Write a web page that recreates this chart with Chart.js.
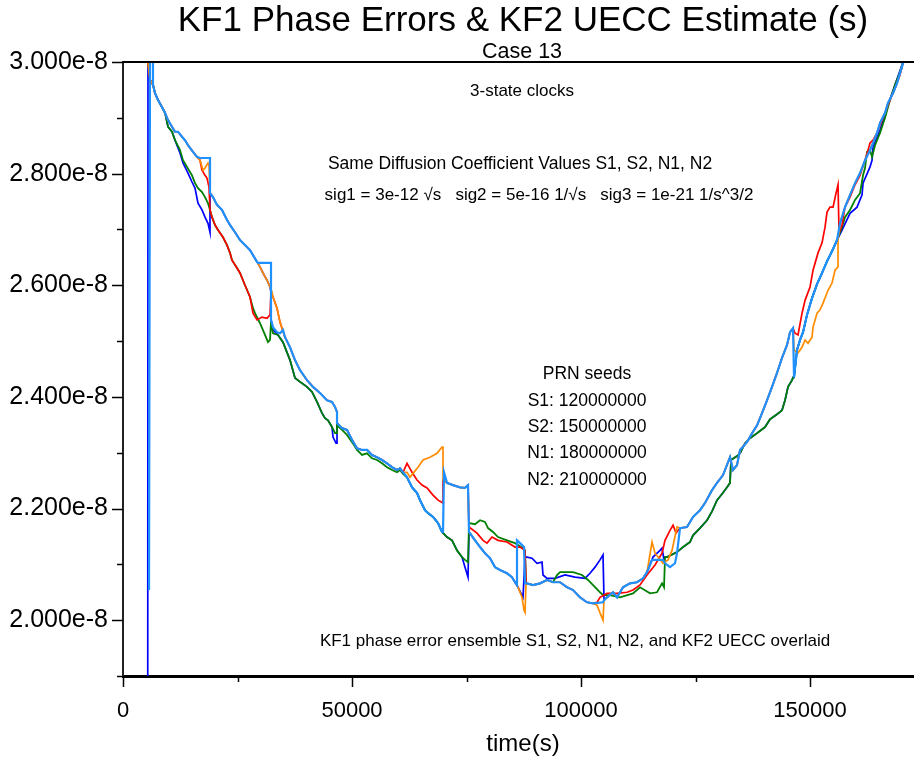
<!DOCTYPE html>
<html>
<head>
<meta charset="utf-8">
<title>KF1 Phase Errors &amp; KF2 UECC Estimate</title>
<script src="https://cdn.jsdelivr.net/npm/chart.js@4.4.1/dist/chart.umd.min.js"></script>
<style>
  html, body { margin: 0; padding: 0; background: #fff; }
</style>
</head>
<body>
<canvas id="kfChart" width="914" height="759"></canvas>
<script>
// Time in seconds, phase error in units of 1e-8 s (ticks are labelled "x.xxxe-8").
// The five traces share long stretches, so each one is assembled from path pieces.
const head = [[5459, 3.000], [5895, 2.968]];
const start = [[6550, 2.959], [6987, 2.944], [7642, 2.932], [8515, 2.919], [9170, 2.909]];
const upperEarly = [[9825, 2.896], [10699, 2.884], [11354, 2.875], [12009, 2.875], [12882, 2.866], [13537, 2.860], [14192, 2.851], [15284, 2.839], [16157, 2.830]];
const greenEarly = [[9825, 2.884], [10699, 2.875], [11354, 2.860], [12445, 2.842], [13100, 2.824], [13974, 2.812], [15065, 2.797], [15720, 2.783], [16376, 2.774], [17249, 2.767], [17904, 2.758], [18559, 2.747]];
const blueEarly = [[9825, 2.884], [10699, 2.875], [11354, 2.860], [12445, 2.837], [13100, 2.819], [14192, 2.801], [15065, 2.785], [15720, 2.774], [16376, 2.747], [17249, 2.735], [17904, 2.722], [18559, 2.711], [18996, 2.695]];
const redKink1 = [[16812, 2.824], [17249, 2.806], [17904, 2.797], [18341, 2.792], [18777, 2.776]];
const orangeKink1 = [[16812, 2.824], [17467, 2.806], [17904, 2.810], [18559, 2.819], [18777, 2.815]];
const cyanStep1 = [[16812, 2.828], [18996, 2.828]];

const lowerA = [[18996, 2.735], [19432, 2.722], [20087, 2.708], [20742, 2.699], [21834, 2.686], [22707, 2.672], [23362, 2.658], [23799, 2.645], [24891, 2.631], [25546, 2.622], [26637, 2.600], [27729, 2.579]];
const greenA = [[28384, 2.559], [28821, 2.550], [29913, 2.532], [31004, 2.511], [31659, 2.498], [32096, 2.502], [32314, 2.534], [32751, 2.514], [33843, 2.511], [34934, 2.498]];
const redA = [[28384, 2.550], [29258, 2.538], [30349, 2.543], [31441, 2.541], [32096, 2.547], [32314, 2.588], [32751, 2.579], [33624, 2.559], [34279, 2.534], [34716, 2.523], [35371, 2.507]];
const upperA = [[18996, 2.765], [19651, 2.758], [20524, 2.744], [21616, 2.735], [22707, 2.717], [23362, 2.708], [24454, 2.695], [25546, 2.681], [26637, 2.672], [27729, 2.663], [28384, 2.654], [29258, 2.642]];
const upperA2 = [[29913, 2.633], [30568, 2.622], [31441, 2.609], [32096, 2.597]];
const orangeA = [[32533, 2.588], [32751, 2.579], [33624, 2.559], [34279, 2.534], [34716, 2.523], [35371, 2.507]];
const blueA = [[32314, 2.588], [32314, 2.538], [32751, 2.520], [33843, 2.511], [34934, 2.498]];
const cyanA = [[29476, 2.640], [32314, 2.640], [32314, 2.538], [32751, 2.525], [33624, 2.516], [34279, 2.514], [34934, 2.520], [35371, 2.507]];

const upperB = [[36463, 2.489], [37554, 2.466], [38646, 2.448], [40175, 2.430], [41485, 2.418], [43013, 2.407], [44541, 2.394], [45633, 2.391], [46288, 2.382], [46725, 2.373]];
const lowerB = [[36463, 2.466], [37554, 2.434], [38646, 2.427], [40175, 2.418], [41266, 2.409], [42358, 2.391], [43450, 2.371], [44105, 2.362], [44760, 2.358], [45633, 2.346]];
const greenB = [[46288, 2.335], [46725, 2.335]];
const blueB = [[45851, 2.328], [46506, 2.317], [46725, 2.317]];
const bundle = [[46725, 2.353], [47817, 2.344], [48908, 2.341], [50000, 2.323], [51092, 2.308], [52183, 2.305], [53275, 2.305], [54367, 2.296], [55458, 2.292], [56550, 2.287], [57642, 2.281], [58733, 2.274], [59825, 2.269], [60480, 2.272], [61135, 2.265]];
const bundleGreen = [[46725, 2.349], [47817, 2.341], [48908, 2.332], [50000, 2.319], [51092, 2.305], [52183, 2.296], [53275, 2.299], [54367, 2.290], [55458, 2.287], [56550, 2.281], [57642, 2.274], [58733, 2.269], [59825, 2.265], [60480, 2.269], [61135, 2.262]];

const orangePeak = [[62009, 2.265], [62664, 2.256], [63319, 2.263], [64410, 2.274], [65502, 2.287], [67030, 2.292], [68559, 2.299], [69651, 2.310], [69869, 2.310], [69869, 2.251]];
const redDrift = [[62009, 2.281], [63100, 2.265], [64192, 2.251], [65284, 2.242], [66376, 2.237], [67685, 2.224], [68777, 2.215], [69869, 2.210], [69869, 2.251]];
const plateau = [[70742, 2.246], [72052, 2.242], [73581, 2.238], [74672, 2.237], [75327, 2.242]];
const lowerC = [[62009, 2.256], [63100, 2.238], [64192, 2.228], [64847, 2.215], [65939, 2.197], [66594, 2.192], [67685, 2.185], [68777, 2.174], [69651, 2.158]];
const lowerC2 = [[70742, 2.149], [71834, 2.143], [72926, 2.125], [74017, 2.113]];
const cyanC = [[69869, 2.158], [70087, 2.265]];
const blueC = [[74672, 2.095], [75327, 2.077]];
const greenC = [[74672, 2.108], [75327, 2.104], [75546, 2.174], [76856, 2.172], [77947, 2.179], [79039, 2.176], [79694, 2.165], [80786, 2.158], [81878, 2.149], [83843, 2.143], [85589, 2.138], [87336, 2.129], [87773, 2.125], [87991, 2.066]];
const redC = [[75546, 2.167], [77292, 2.156], [78603, 2.143], [79476, 2.138], [80568, 2.149], [81878, 2.143], [83843, 2.140], [85589, 2.131], [86681, 2.131], [87773, 2.125], [87991, 2.066]];

const lowerD = [[75546, 2.158], [76856, 2.143], [77947, 2.131], [79039, 2.120], [80131, 2.111], [81223, 2.095], [82314, 2.090], [83843, 2.084], [84934, 2.077], [85589, 2.068]];
const cyanD = [[86026, 2.063], [86026, 2.143], [86681, 2.138], [87555, 2.131], [87773, 2.066]];
const orangeD = [[86244, 2.059], [87118, 2.041], [87555, 2.018], [87773, 2.014], [87991, 2.066]];
const blueD = [[86244, 2.059], [87336, 2.041], [87773, 2.113], [88209, 2.113], [89301, 2.111], [90393, 2.102], [91484, 2.104], [91703, 2.081], [92576, 2.075], [94323, 2.075], [96506, 2.081], [98690, 2.077], [100873, 2.075], [101965, 2.084], [103057, 2.095], [104148, 2.108], [104803, 2.117], [105022, 2.036]];

const lowerE = [[88209, 2.066], [89519, 2.063], [91048, 2.066], [92576, 2.072], [93886, 2.068]];
const lowerE2 = [[95415, 2.068], [96943, 2.059], [98253, 2.054], [99782, 2.041], [101310, 2.032], [102620, 2.030]];
const cyanE = [[104803, 2.032], [105022, 2.036]];
const orangeE = [[103494, 2.027], [104148, 2.013], [104803, 2.000], [105022, 2.036]];
const greenE = [[94760, 2.081], [95415, 2.086], [96943, 2.086], [98253, 2.086], [100218, 2.081], [101528, 2.072], [103057, 2.059], [104148, 2.050], [104803, 2.045], [106332, 2.045], [108515, 2.041], [111353, 2.048], [112882, 2.059], [115065, 2.048], [116594, 2.050], [117686, 2.066], [118122, 2.059]];
const redE = [[103494, 2.032], [104148, 2.041], [105677, 2.048], [107860, 2.048], [110043, 2.050], [111353, 2.054], [112882, 2.063], [114410, 2.081], [116157, 2.099], [117686, 2.120], [118340, 2.143], [119432, 2.161], [120087, 2.170], [120742, 2.156], [121615, 2.165]];

const upperF = [[105677, 2.041], [106987, 2.050], [107860, 2.041], [109170, 2.059], [110698, 2.066], [112227, 2.068], [113537, 2.075], [114410, 2.086]];
const cyanF = [[115502, 2.108], [117904, 2.108], [118340, 2.102], [119432, 2.095], [120524, 2.102], [120960, 2.120], [121615, 2.165]];
const blueF = [[115720, 2.113], [117249, 2.125], [117686, 2.129], [118122, 2.108]];
const orangeF = [[115502, 2.140], [116157, 2.120], [117904, 2.102], [118996, 2.108], [119869, 2.125], [120960, 2.167], [121615, 2.165]];

const upperG = [[123144, 2.167], [124454, 2.185], [125982, 2.197], [127074, 2.210], [128602, 2.233], [129694, 2.246], [131004, 2.260], [132532, 2.292], [133188, 2.269], [134061, 2.278], [134716, 2.305], [136244, 2.319], [137336, 2.335], [138428, 2.349], [139519, 2.371], [140611, 2.394], [141703, 2.418], [142795, 2.443], [143886, 2.470], [144978, 2.493], [145633, 2.516], [146288, 2.523]];
const lowerG = [[118340, 2.113], [118777, 2.113], [120960, 2.122], [122270, 2.131], [123799, 2.140], [124454, 2.152], [125982, 2.165], [127511, 2.179], [128602, 2.195], [129694, 2.215], [130786, 2.226], [131878, 2.238], [132532, 2.246], [132751, 2.287], [134061, 2.294], [134716, 2.299], [135808, 2.317], [136899, 2.326], [138428, 2.335], [140175, 2.346], [141266, 2.360], [142795, 2.369], [143886, 2.376], [144541, 2.394], [145196, 2.418], [146070, 2.430], [146288, 2.435]];

const midH = [[146506, 2.435], [147161, 2.484], [147816, 2.502], [148472, 2.516], [149345, 2.547], [150437, 2.577], [151529, 2.602], [152620, 2.622], [153711, 2.643], [154804, 2.661], [155895, 2.681]];
const redH = [[146725, 2.514], [147380, 2.511], [148253, 2.550], [148908, 2.573], [150000, 2.597], [150655, 2.627], [151747, 2.658], [152620, 2.676], [153275, 2.704], [153711, 2.731], [154367, 2.740], [155022, 2.740], [155677, 2.765], [156114, 2.780], [156332, 2.694], [156987, 2.708], [157642, 2.740], [158733, 2.758], [159825, 2.780], [160917, 2.797], [162008, 2.824], [162664, 2.842], [163100, 2.855], [163755, 2.860], [164628, 2.873], [165284, 2.887], [166375, 2.909], [167467, 2.932], [168558, 2.953], [169651, 2.977], [170306, 2.998]];
const orangeH = [[146506, 2.484], [147380, 2.479], [148253, 2.489], [148908, 2.502], [149563, 2.496], [150437, 2.507], [150655, 2.525], [151529, 2.550], [152183, 2.556], [152839, 2.568], [153930, 2.591], [154804, 2.604], [155459, 2.627], [156114, 2.633], [156114, 2.681]];
const topI = [[156550, 2.711], [157642, 2.740], [158733, 2.762], [159825, 2.783], [160917, 2.801], [162008, 2.824], [163100, 2.842], [163755, 2.855], [164628, 2.873], [165284, 2.891], [166375, 2.909], [167030, 2.927], [168122, 2.944], [168995, 2.962], [169651, 2.980], [170306, 2.998], [170743, 3.007]];
const greenI = [[156987, 2.704], [157642, 2.722], [158733, 2.735], [159825, 2.753], [160917, 2.765], [161572, 2.797], [162008, 2.810], [162445, 2.839], [163100, 2.842], [163537, 2.830], [164192, 2.851], [165284, 2.873], [166375, 2.900], [167467, 2.932], [168558, 2.959], [169651, 2.982], [170306, 3.000], [170743, 3.007]];
const blueI = [[156987, 2.699], [158733, 2.729], [160262, 2.740], [161353, 2.762], [161572, 2.783], [163100, 2.812], [163537, 2.824], [163755, 2.848], [165284, 2.878], [167030, 2.923], [168558, 2.959], [170306, 3.000]];

// the start-up transients of N1 and of the UECC estimate
const blueSpike = [[5400, 1.850]];
const cyanSpike = [[5677, 2.054], [5895, 3.013], [6550, 3.013]];

const S1 = [].concat(head, start, upperEarly, redKink1, lowerA, redA, upperB, bundle, redDrift, plateau, redC, lowerE, lowerE2, redE, upperG, redH);
const S2 = [].concat(head, start, upperEarly, orangeKink1, upperA, upperA2, orangeA, upperB, bundle, orangePeak, plateau, lowerD, orangeD, lowerE, lowerE2, orangeE, upperF, orangeF, upperG, orangeH, topI);
const N1 = [].concat(blueSpike, head, start, blueEarly, upperA, upperA2, blueA, lowerB, blueB, bundle, lowerC, lowerC2, blueC, lowerD, blueD, upperF, blueF, lowerG, midH, blueI);
const N2 = [].concat(head, start, greenEarly, lowerA, greenA, lowerB, greenB, bundleGreen, lowerC, lowerC2, greenC, lowerE, greenE, lowerG, midH, greenI);
const UECC = [].concat(cyanSpike, start, upperEarly, cyanStep1, upperA, cyanA, upperB, bundle, lowerC, cyanC, plateau, lowerD, cyanD, lowerE, lowerE2, cyanE, upperF, cyanF, upperG, midH, topI);

const X_MAX = 172700;
const Y_MIN = 1.9;
const Y_MAX = 3.0;
const X_TICKS = [0, 25000, 50000, 75000, 100000, 125000, 150000];
const X_LABELLED = [0, 50000, 100000, 150000];
const Y_TICKS = [1.9, 2.0, 2.1, 2.2, 2.3, 2.4, 2.5, 2.6, 2.7, 2.8, 2.9, 3.0];
const Y_LABELLED = [2.0, 2.2, 2.4, 2.6, 2.8, 3.0];

const FONT = "'Liberation Sans', Arial, sans-serif";

const SERIES = [
    { name: 'KF2 UECC', data: UECC, color: '#1e90ff', width: 2.2, order: 0 },
    { name: 'S2', data: S2, color: '#ff8c00', width: 1.7, order: 1 },
    { name: 'S1', data: S1, color: '#ff0000', width: 1.7, order: 2 },
    { name: 'N2', data: N2, color: '#008000', width: 1.8, order: 3 },
    { name: 'N1', data: N1, color: '#0000ff', width: 1.7, order: 4 },
];

// tick marks (long on labelled ticks), the top frame line and the captions
const frame = {
    id: 'frame',
    afterDraw(chart) {
        const { ctx, chartArea: a, scales: { x, y } } = chart;
        ctx.save();
        ctx.strokeStyle = '#000';
        ctx.lineWidth = 1.5;
        y.ticks.forEach(t => {
            const py = Math.round(y.getPixelForValue(t.value)) + 0.5;
            const len = t.label ? 11 : 6;
            ctx.beginPath(); ctx.moveTo(a.left - len, py); ctx.lineTo(a.left, py); ctx.stroke();
        });
        x.ticks.forEach(t => {
            const px = Math.round(x.getPixelForValue(t.value)) + 0.5;
            const len = t.label ? 11 : 6;
            ctx.beginPath(); ctx.moveTo(px, a.bottom); ctx.lineTo(px, a.bottom + len); ctx.stroke();
        });
        ctx.lineWidth = 2;
        ctx.beginPath(); ctx.moveTo(a.left, a.top); ctx.lineTo(a.right, a.top); ctx.stroke();

        ctx.fillStyle = '#000';
        ctx.textAlign = 'center';
        ctx.textBaseline = 'middle';
        const put = (s, px, py, size) => { ctx.font = size + 'px ' + FONT; ctx.fillText(s, px, py); };
        put('KF1 Phase Errors & KF2 UECC Estimate (s)', 523, 21, 35);
        put('Case 13', 522, 52, 21.5);
        put('3-state clocks', 522, 91, 17);
        put('Same Diffusion Coefficient Values S1, S2, N1, N2', 520, 164, 17.5);
        put('sig1 = 3e-12 \u221As   sig2 = 5e-16 1/\u221As   sig3 = 1e-21 1/s^3/2', 539, 195, 17);
        put('PRN seeds', 587, 374, 17.5);
        put('S1: 120000000', 587, 401, 17.5);
        put('S2: 150000000', 587, 427, 17.5);
        put('N1: 180000000', 587, 453, 17.5);
        put('N2: 210000000', 587, 480, 17.5);
        put('KF1 phase error ensemble S1, S2, N1, N2, and KF2 UECC overlaid', 575, 641, 17);
        put('time(s)', 523, 744, 24);
        ctx.restore();
    },
};

new Chart(document.getElementById('kfChart'), {
    type: 'line',
    data: {
        datasets: SERIES.map(s => ({
            label: s.name,
            data: s.data.map(([t, v]) => ({ x: t, y: v })),
            borderColor: s.color,
            backgroundColor: s.color,
            borderWidth: s.width,
            pointRadius: 0,
            tension: 0,
            fill: false,
            clip: 0,
            order: s.order,
        })),
    },
    options: {
        responsive: false,
        animation: false,
        devicePixelRatio: 1,
        layout: { padding: { top: 62, left: 0, right: 0, bottom: 0 } },
        plugins: { legend: { display: false }, tooltip: { enabled: false } },
        scales: {
            x: {
                type: 'linear',
                min: 0,
                max: X_MAX,
                grid: { display: false, drawTicks: false },
                border: { display: true, color: '#000', width: 3 },
                afterBuildTicks: s => { s.ticks = X_TICKS.map(v => ({ value: v })); },
                ticks: {
                    autoSkip: false, maxRotation: 0,
                    padding: 22, color: '#000', font: { family: FONT, size: 22 },
                    callback: v => (X_LABELLED.includes(v) ? String(v) : ''),
                },
                afterFit: s => { s.height = 83; },
            },
            y: {
                min: Y_MIN,
                max: Y_MAX,
                grid: { display: false, drawTicks: false },
                border: { display: true, color: '#222', width: 2 },
                afterBuildTicks: s => { s.ticks = Y_TICKS.map(v => ({ value: v })); },
                ticks: {
                    autoSkip: false, padding: 15, color: '#000',
                    font: { family: FONT, size: 25 },
                    callback: v => (Y_LABELLED.some(l => Math.abs(l - v) < 1e-9) ? v.toFixed(3) + 'e-8' : ''),
                },
                afterFit: s => { s.width = 123; },
            },
        },
    },
    plugins: [frame],
});
</script>
</body>
</html>
